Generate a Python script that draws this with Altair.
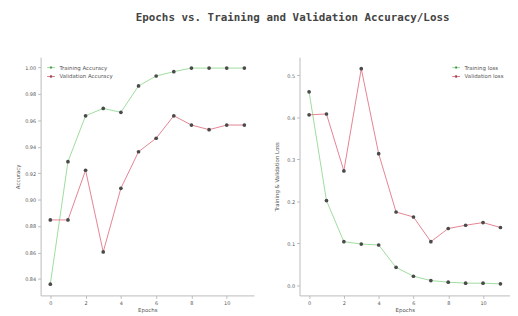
import altair as alt
import pandas as pd

epochs = list(range(12))
train_acc = [0.836, 0.9287, 0.9634, 0.969, 0.966, 0.986, 0.9935, 0.9968, 0.9995, 0.9995, 0.9995, 0.9995]
val_acc = [0.8846, 0.8846, 0.9222, 0.8604, 0.9085, 0.9362, 0.9464, 0.9634, 0.9564, 0.9529, 0.9564, 0.9564]
train_loss = [0.4607, 0.202, 0.1043, 0.0987, 0.0964, 0.0432, 0.022, 0.0118, 0.008, 0.0056, 0.0056, 0.004]
val_loss = [0.406, 0.408, 0.2727, 0.5157, 0.3136, 0.1749, 0.163, 0.1043, 0.1356, 0.1434, 0.1497, 0.138]

acc_series = ["Training Accuracy", "Validation Accuracy"]
loss_series = ["Training loss", "Validation loss"]
line_colors = ["#93d993", "#e07585"]
marker_color = "#4a4a4a"

acc_df = pd.DataFrame({
    "Epoch": epochs * 2,
    "Value": train_acc + val_acc,
    "Series": [acc_series[0]] * 12 + [acc_series[1]] * 12,
})
loss_df = pd.DataFrame({
    "Epoch": epochs * 2,
    "Value": train_loss + val_loss,
    "Series": [loss_series[0]] * 12 + [loss_series[1]] * 12,
})

sym = "M-1,0L-0.3,0M0.3,0L1,0M-0.3,0a0.3,0.3 0 1,0 0.6,0a0.3,0.3 0 1,0 -0.6,0"

x_enc = alt.X("Epoch:Q", scale=alt.Scale(domain=[-0.55, 11.55], nice=False, zero=False),
              axis=alt.Axis(values=[0, 2, 4, 6, 8, 10], title="Epochs", grid=False))


def panel(df, series, ydom, yvals, yfmt, ytitle, legend_orient, w):
    y_enc = alt.Y("Value:Q", scale=alt.Scale(domain=ydom, nice=False, zero=False),
                  axis=alt.Axis(values=yvals, format=yfmt, title=ytitle, grid=False,
                                minExtent=18, maxExtent=18))
    lines = alt.Chart(df).mark_line(strokeWidth=0.9).encode(
        x=x_enc, y=y_enc,
        color=alt.Color("Series:N", scale=alt.Scale(domain=series, range=line_colors),
                        legend=alt.Legend(title=None, orient=legend_orient, symbolType=sym,
                                          symbolSize=60, symbolStrokeWidth=1,
                                          symbolFillColor=marker_color,
                                          labelFontSize=5.5, labelColor="#555",
                                          rowPadding=1, padding=2,
                                          offset=4)),
        detail="Series:N",
    )
    pts = alt.Chart(df).mark_circle(size=14, color=marker_color, opacity=1).encode(
        x=x_enc, y=y_enc,
    )
    return alt.layer(lines, pts).properties(width=w, height=241)


left = panel(acc_df, acc_series, [0.8275, 1.0077],
             [0.84, 0.86, 0.88, 0.90, 0.92, 0.94, 0.96, 0.98, 1.00], ".2f",
             "Accuracy", "top-left", 216)
right = panel(loss_df, loss_series, [-0.0235, 0.543],
              [0.0, 0.1, 0.2, 0.3, 0.4, 0.5], ".1f",
              "Training & Validation Loss", "top-right", 213)

chart = alt.hconcat(left, right, spacing=21).resolve_scale(
    color="independent"
).resolve_legend(color="independent").properties(
    title=alt.TitleParams("Epochs vs. Training and Validation Accuracy/Loss",
                          font="DejaVu Sans Mono", fontSize=11, fontWeight="bold",
                          color="#444", anchor="middle", dx=30, offset=35),
    padding={"left": 8, "top": 2, "right": 0, "bottom": 0},
).configure_view(stroke=None).configure_axis(
    labelFontSize=5, titleFontSize=5.5, labelColor="#555", titleColor="#555",
    domainColor="#bbb", tickColor="#bbb", tickSize=3, labelPadding=2, titlePadding=2,
    labelFont="DejaVu Sans", titleFont="DejaVu Sans", titleFontWeight="normal",
).configure_legend(labelFont="DejaVu Sans")

chart.save("out.html", embed_options={"renderer": "svg", "actions": False})
